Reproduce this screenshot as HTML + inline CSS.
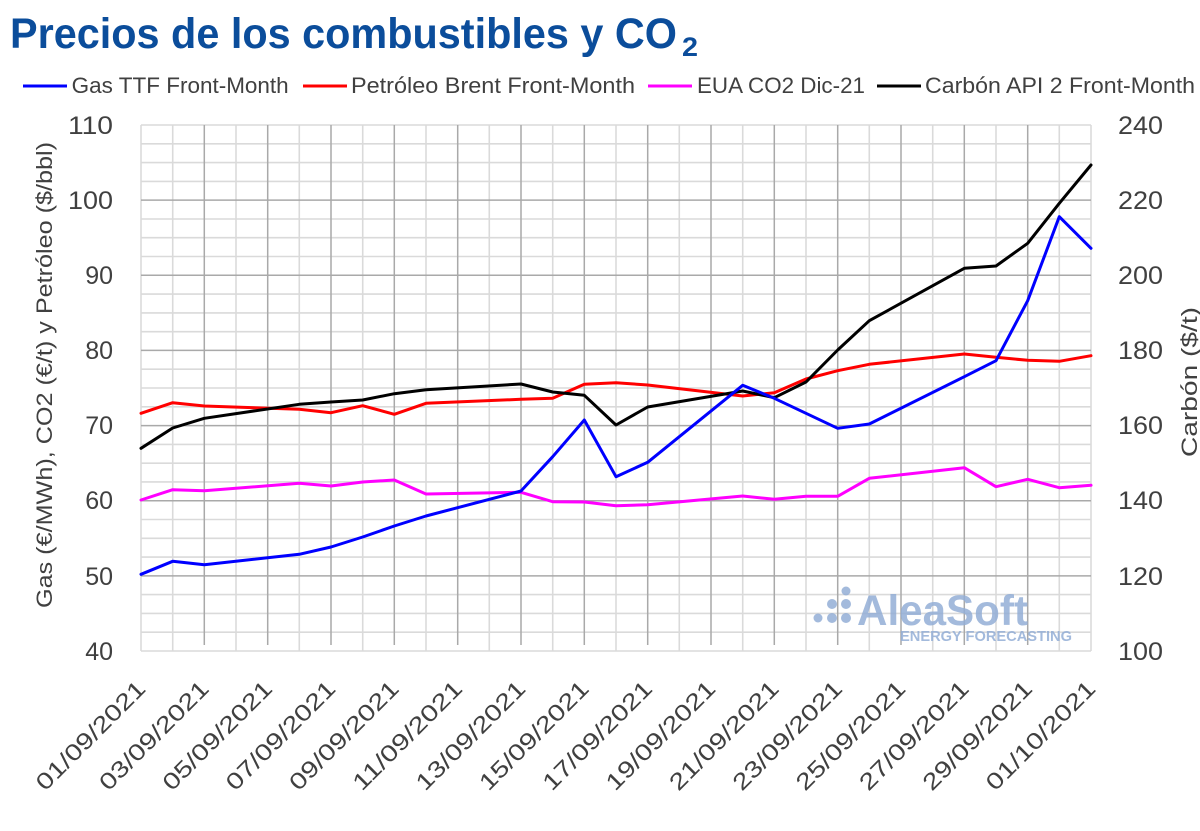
<!DOCTYPE html>
<html>
<head>
<meta charset="utf-8">
<style>
html,body{margin:0;padding:0;background:#fff;}
svg{display:block;}
text{font-family:"Liberation Sans",sans-serif;}
</style>
</head>
<body>
<svg width="1200" height="831" viewBox="0 0 1200 831" xmlns="http://www.w3.org/2000/svg">
<rect width="1200" height="831" fill="#fff"/>
<!-- Title -->
<text x="10" y="48" font-size="43" font-weight="bold" fill="#0b4d9b" textLength="667" lengthAdjust="spacingAndGlyphs">Precios de los combustibles y CO</text>
<text x="682" y="56" font-size="27" font-weight="bold" fill="#0b4d9b" textLength="16" lengthAdjust="spacingAndGlyphs">2</text>

<!-- Legend -->
<g font-size="22" fill="#404040">
<line x1="23" y1="86" x2="67" y2="86" stroke="#0000ff" stroke-width="3"/>
<text x="71.7" y="93" textLength="217" lengthAdjust="spacingAndGlyphs">Gas TTF Front-Month</text>
<line x1="303" y1="86" x2="347" y2="86" stroke="#ff0000" stroke-width="3"/>
<text x="351" y="93" textLength="284" lengthAdjust="spacingAndGlyphs">Petróleo Brent Front-Month</text>
<line x1="648" y1="86" x2="692" y2="86" stroke="#ff00ff" stroke-width="3"/>
<text x="697" y="93" textLength="168" lengthAdjust="spacingAndGlyphs">EUA CO2 Dic-21</text>
<line x1="877" y1="86" x2="921" y2="86" stroke="#000" stroke-width="3"/>
<text x="925" y="93" textLength="270" lengthAdjust="spacingAndGlyphs">Carbón API 2 Front-Month</text>
</g>

<!-- Grid light -->
<g stroke="#dadada" stroke-width="1.6">
<line x1="141" y1="125" x2="1091" y2="125"/><line x1="141" y1="143.8" x2="1091" y2="143.8"/><line x1="141" y1="162.6" x2="1091" y2="162.6"/><line x1="141" y1="181.4" x2="1091" y2="181.4"/>
<line x1="141" y1="219" x2="1091" y2="219"/><line x1="141" y1="237.7" x2="1091" y2="237.7"/><line x1="141" y1="256.5" x2="1091" y2="256.5"/>
<line x1="141" y1="294.1" x2="1091" y2="294.1"/><line x1="141" y1="312.9" x2="1091" y2="312.9"/><line x1="141" y1="331.7" x2="1091" y2="331.7"/>
<line x1="141" y1="369.2" x2="1091" y2="369.2"/><line x1="141" y1="388" x2="1091" y2="388"/><line x1="141" y1="406.8" x2="1091" y2="406.8"/>
<line x1="141" y1="444.4" x2="1091" y2="444.4"/><line x1="141" y1="463.2" x2="1091" y2="463.2"/><line x1="141" y1="481.9" x2="1091" y2="481.9"/>
<line x1="141" y1="519.5" x2="1091" y2="519.5"/><line x1="141" y1="538.3" x2="1091" y2="538.3"/><line x1="141" y1="557.1" x2="1091" y2="557.1"/>
<line x1="141" y1="594.6" x2="1091" y2="594.6"/><line x1="141" y1="613.4" x2="1091" y2="613.4"/><line x1="141" y1="632.2" x2="1091" y2="632.2"/>
<line x1="141" y1="651" x2="1091" y2="651"/>
<line x1="141" y1="125" x2="141" y2="651"/><line x1="172.7" y1="125" x2="172.7" y2="651"/><line x1="236" y1="125" x2="236" y2="651"/><line x1="299.3" y1="125" x2="299.3" y2="651"/><line x1="362.7" y1="125" x2="362.7" y2="651"/><line x1="426" y1="125" x2="426" y2="651"/><line x1="489.3" y1="125" x2="489.3" y2="651"/><line x1="552.7" y1="125" x2="552.7" y2="651"/><line x1="616" y1="125" x2="616" y2="651"/><line x1="679.3" y1="125" x2="679.3" y2="651"/><line x1="742.7" y1="125" x2="742.7" y2="651"/><line x1="806" y1="125" x2="806" y2="651"/><line x1="869.3" y1="125" x2="869.3" y2="651"/><line x1="932.7" y1="125" x2="932.7" y2="651"/><line x1="996" y1="125" x2="996" y2="651"/><line x1="1059.3" y1="125" x2="1059.3" y2="651"/><line x1="1091" y1="125" x2="1091" y2="651"/>
</g>
<!-- Grid dark -->
<g stroke="#a9a9a9" stroke-width="1.5">
<line x1="141" y1="200.1" x2="1091" y2="200.1"/><line x1="141" y1="275.3" x2="1091" y2="275.3"/><line x1="141" y1="350.4" x2="1091" y2="350.4"/><line x1="141" y1="425.6" x2="1091" y2="425.6"/><line x1="141" y1="500.7" x2="1091" y2="500.7"/><line x1="141" y1="575.9" x2="1091" y2="575.9"/>
<line x1="204.3" y1="125" x2="204.3" y2="645"/><line x1="267.7" y1="125" x2="267.7" y2="645"/><line x1="331" y1="125" x2="331" y2="645"/><line x1="394.3" y1="125" x2="394.3" y2="645"/><line x1="457.7" y1="125" x2="457.7" y2="645"/><line x1="521" y1="125" x2="521" y2="645"/><line x1="584.3" y1="125" x2="584.3" y2="645"/><line x1="647.7" y1="125" x2="647.7" y2="645"/><line x1="711" y1="125" x2="711" y2="645"/><line x1="774.3" y1="125" x2="774.3" y2="645"/><line x1="837.7" y1="125" x2="837.7" y2="645"/><line x1="901" y1="125" x2="901" y2="645"/><line x1="964.3" y1="125" x2="964.3" y2="645"/><line x1="1027.7" y1="125" x2="1027.7" y2="645"/>
</g>

<!-- Watermark -->
<g fill="#93aed6" opacity="0.85">
<circle cx="818" cy="618" r="4.5"/>
<circle cx="832" cy="604" r="5"/><circle cx="832" cy="618" r="5"/>
<circle cx="846" cy="591" r="4.5"/><circle cx="846" cy="604" r="5"/><circle cx="846" cy="618" r="5"/>
<text x="857" y="625" font-size="43" font-weight="bold" textLength="171" lengthAdjust="spacingAndGlyphs">AleaSoft</text>
<text x="900" y="641" font-size="15" font-weight="bold" textLength="172" lengthAdjust="spacingAndGlyphs">ENERGY FORECASTING</text>
</g>

<!-- Series -->
<g fill="none" stroke-width="3" stroke-linejoin="round" stroke-linecap="round">
<polyline stroke="#ff00ff" points="141,500 172.7,489.7 204.3,490.7 299.3,483.3 331,486 362.7,482 394.3,480 426,494 521,492.3 552.7,501.7 584.3,502 616,505.7 647.7,504.7 742.7,496 774.3,499.3 806,496.3 837.7,496.3 869.3,478.3 964.3,467.7 996,486.7 1027.7,479.3 1059.3,487.7 1091,485.3"/>
<polyline stroke="#ff0000" points="141,413.3 172.7,402.7 204.3,406 299.3,409.3 331,412.7 362.7,405.7 394.3,414.3 426,403.3 521,399.3 552.7,398.3 584.3,384.3 616,382.7 647.7,385 742.7,396 774.3,392.7 806,379 837.7,370.7 869.3,364.3 964.3,354 996,357.3 1027.7,360.3 1059.3,361.3 1091,355.7"/>
<polyline stroke="#000000" points="141,448.3 172.7,428 204.3,418.3 299.3,404.3 331,402 362.7,400 394.3,393.7 426,389.7 521,384 552.7,392 584.3,395.3 616,425 647.7,407 742.7,391 774.3,397.7 806,382 837.7,350 869.3,320.7 964.3,268.3 996,266 1027.7,243.3 1059.3,203.3 1091,165"/>
<polyline stroke="#0000ff" points="141,574.3 172.7,561.3 204.3,564.7 299.3,554.3 331,547 362.7,537 394.3,526 426,516 521,491 552.7,456.7 584.3,420 616,476.7 647.7,462.3 742.7,385.3 774.3,398.3 806,413.3 837.7,428.3 869.3,424 964.3,376.7 996,360.7 1027.7,300.7 1059.3,216.7 1091,248.3"/>
</g>

<!-- Left axis labels -->
<g font-size="25" fill="#404040" text-anchor="end">
<text x="113" y="134" textLength="45" lengthAdjust="spacingAndGlyphs">110</text>
<text x="113" y="209" textLength="45" lengthAdjust="spacingAndGlyphs">100</text>
<text x="113" y="284">90</text>
<text x="113" y="359">80</text>
<text x="113" y="434">70</text>
<text x="113" y="509">60</text>
<text x="113" y="585">50</text>
<text x="113" y="660">40</text>
</g>
<!-- Right axis labels -->
<g font-size="25" fill="#404040">
<text x="1118" y="134" textLength="45" lengthAdjust="spacingAndGlyphs">240</text>
<text x="1118" y="209" textLength="45" lengthAdjust="spacingAndGlyphs">220</text>
<text x="1118" y="284" textLength="45" lengthAdjust="spacingAndGlyphs">200</text>
<text x="1118" y="359" textLength="45" lengthAdjust="spacingAndGlyphs">180</text>
<text x="1118" y="434" textLength="45" lengthAdjust="spacingAndGlyphs">160</text>
<text x="1118" y="509" textLength="45" lengthAdjust="spacingAndGlyphs">140</text>
<text x="1118" y="585" textLength="45" lengthAdjust="spacingAndGlyphs">120</text>
<text x="1118" y="660" textLength="45" lengthAdjust="spacingAndGlyphs">100</text>
</g>

<!-- Axis titles -->
<text transform="translate(52,375) rotate(-90)" font-size="22" fill="#404040" text-anchor="middle" textLength="466" lengthAdjust="spacingAndGlyphs">Gas (€/MWh), CO2 (€/t)  y Petróleo ($/bbl)</text>
<text transform="translate(1197,382) rotate(-90)" font-size="22" fill="#404040" text-anchor="middle" textLength="150" lengthAdjust="spacingAndGlyphs">Carbón ($/t)</text>

<!-- X labels -->
<g font-size="23" fill="#404040" text-anchor="end">
<text transform="translate(147,690) rotate(-45)" textLength="144" lengthAdjust="spacingAndGlyphs">01/09/2021</text>
<text transform="translate(210.3,690) rotate(-45)" textLength="144" lengthAdjust="spacingAndGlyphs">03/09/2021</text>
<text transform="translate(273.7,690) rotate(-45)" textLength="144" lengthAdjust="spacingAndGlyphs">05/09/2021</text>
<text transform="translate(337,690) rotate(-45)" textLength="144" lengthAdjust="spacingAndGlyphs">07/09/2021</text>
<text transform="translate(400.3,690) rotate(-45)" textLength="144" lengthAdjust="spacingAndGlyphs">09/09/2021</text>
<text transform="translate(463.7,690) rotate(-45)" textLength="144" lengthAdjust="spacingAndGlyphs">11/09/2021</text>
<text transform="translate(527,690) rotate(-45)" textLength="144" lengthAdjust="spacingAndGlyphs">13/09/2021</text>
<text transform="translate(590.3,690) rotate(-45)" textLength="144" lengthAdjust="spacingAndGlyphs">15/09/2021</text>
<text transform="translate(653.7,690) rotate(-45)" textLength="144" lengthAdjust="spacingAndGlyphs">17/09/2021</text>
<text transform="translate(717,690) rotate(-45)" textLength="144" lengthAdjust="spacingAndGlyphs">19/09/2021</text>
<text transform="translate(780.3,690) rotate(-45)" textLength="144" lengthAdjust="spacingAndGlyphs">21/09/2021</text>
<text transform="translate(843.7,690) rotate(-45)" textLength="144" lengthAdjust="spacingAndGlyphs">23/09/2021</text>
<text transform="translate(907,690) rotate(-45)" textLength="144" lengthAdjust="spacingAndGlyphs">25/09/2021</text>
<text transform="translate(970.3,690) rotate(-45)" textLength="144" lengthAdjust="spacingAndGlyphs">27/09/2021</text>
<text transform="translate(1033.7,690) rotate(-45)" textLength="144" lengthAdjust="spacingAndGlyphs">29/09/2021</text>
<text transform="translate(1097,690) rotate(-45)" textLength="144" lengthAdjust="spacingAndGlyphs">01/10/2021</text>
</g>
</svg>
</body>
</html>
